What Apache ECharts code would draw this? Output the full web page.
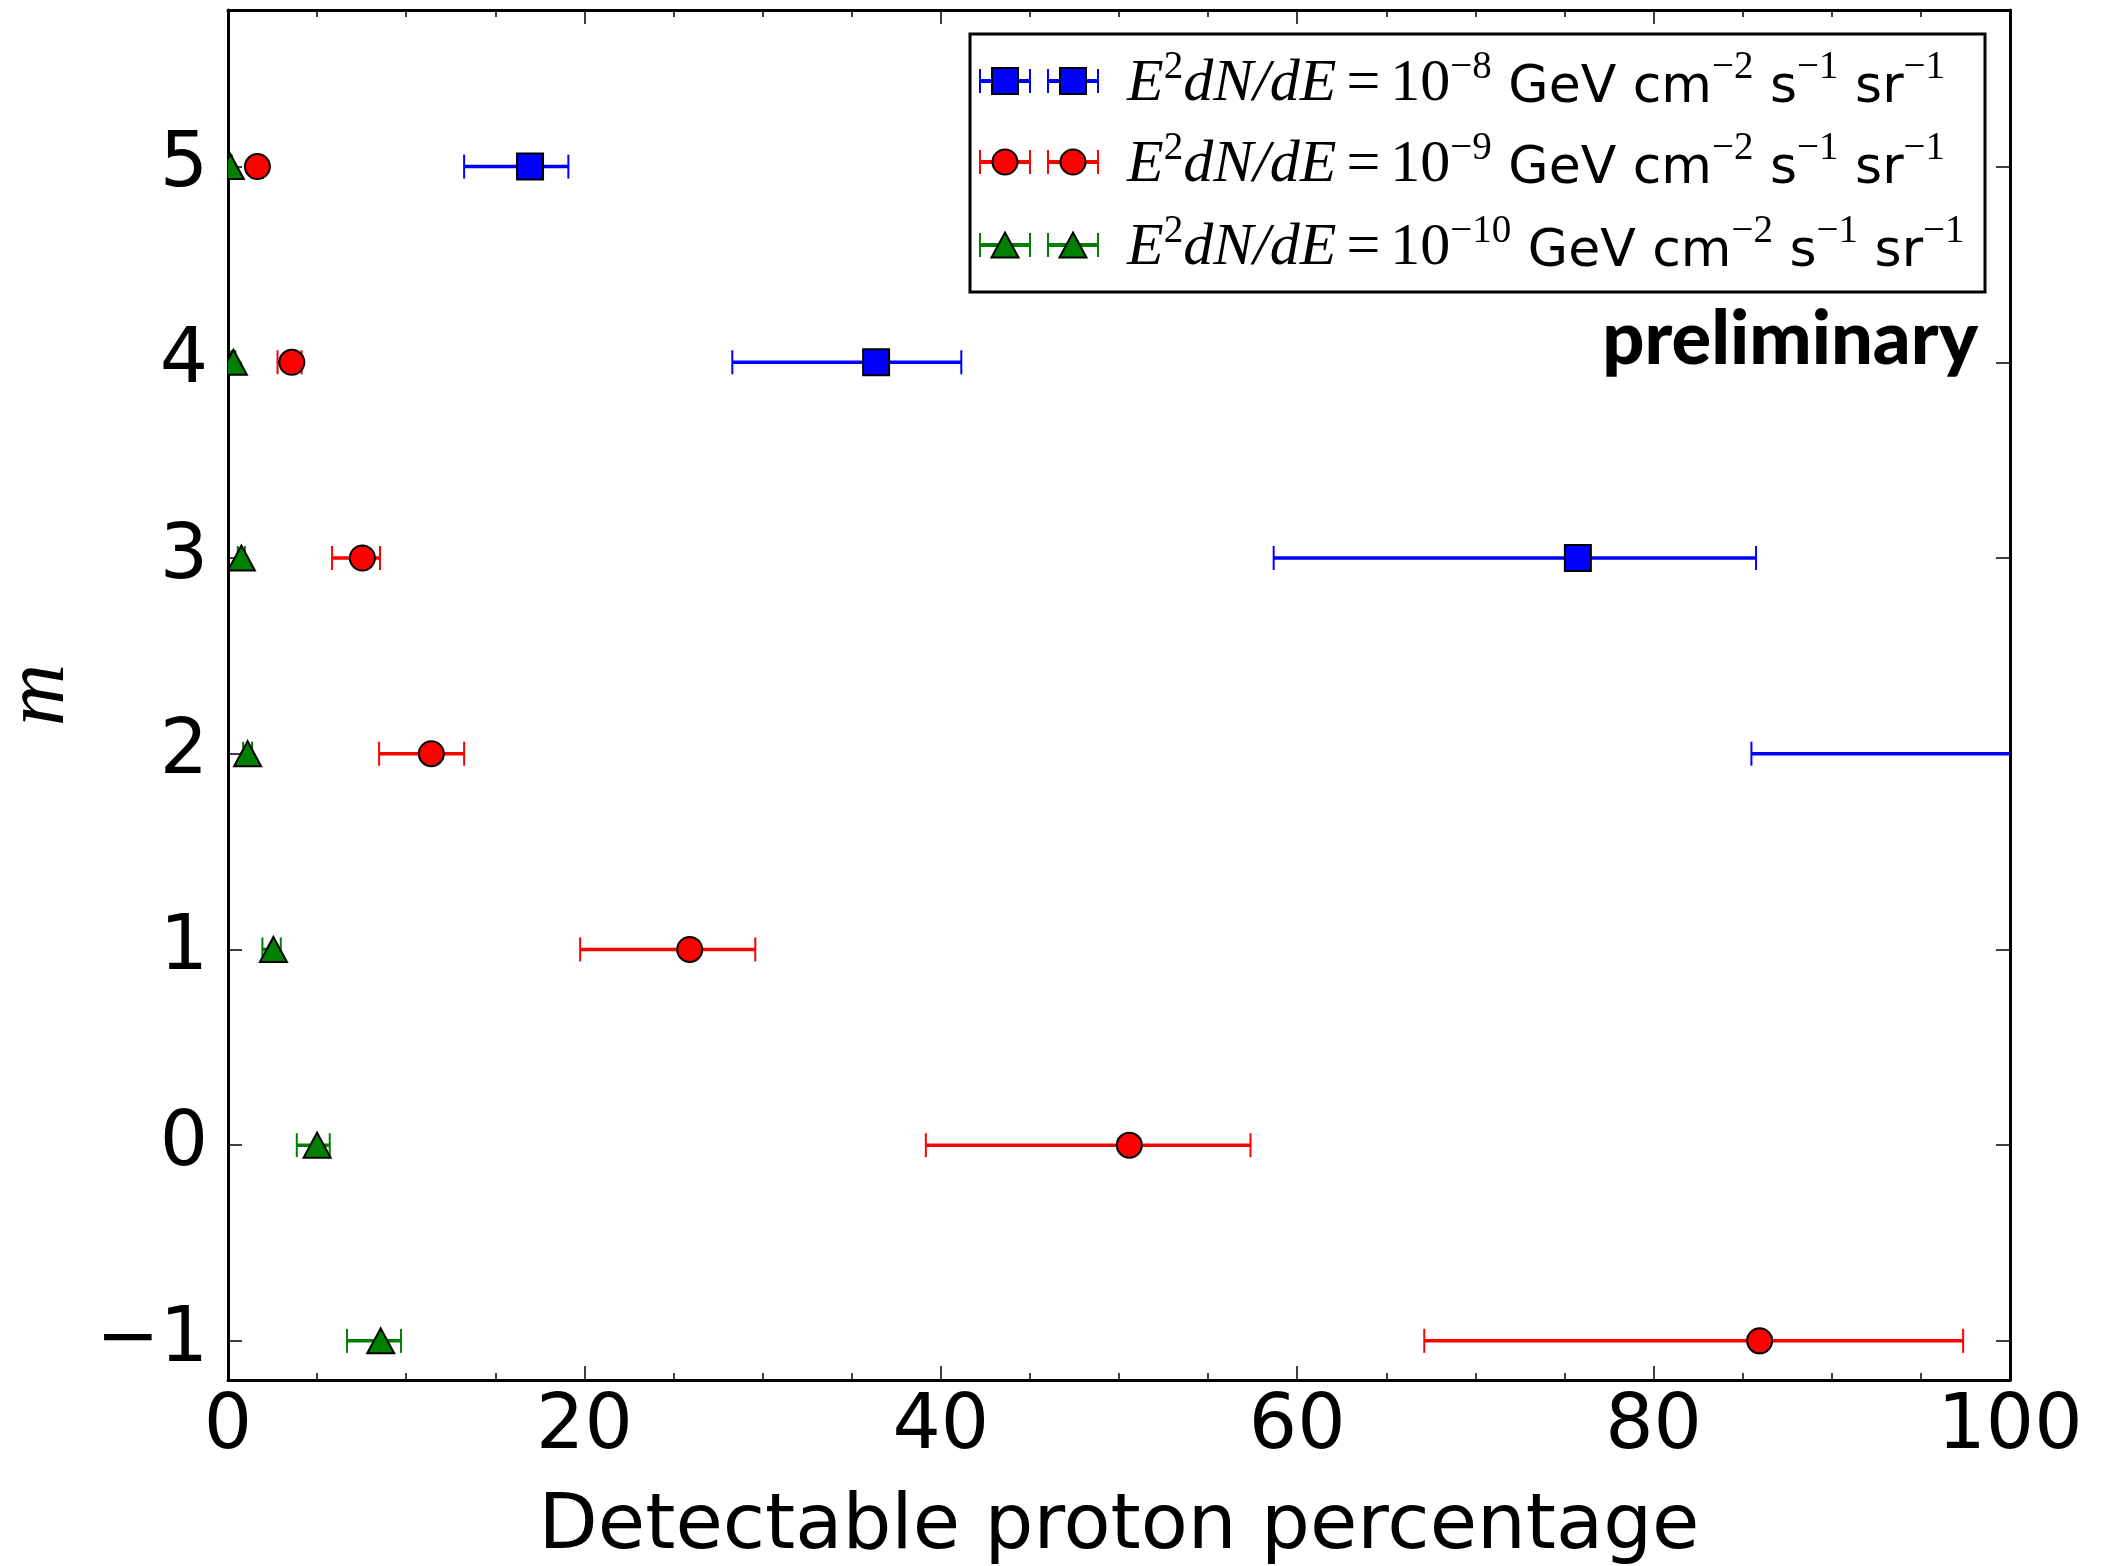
<!DOCTYPE html>
<html><head><meta charset="utf-8">
<script src="https://cdn.jsdelivr.net/npm/echarts@6/dist/echarts.min.js"></script>
<style>html,body{margin:0;padding:0;background:#fff}#c{width:2102px;height:1566px}</style>
</head><body><div id="c"></div>
<script>
// ---- data ----
const xTicks = [0, 20, 40, 60, 80, 100];
const yTicks = [-1, 0, 1, 2, 3, 4, 5];
const xTitle = 'Detectable proton percentage';
const yTitle = 'm';
const watermark = 'preliminary';
const legendExponents = ['\u22128', '\u22129', '\u221210'];

// E^2 dN/dE = 1e-8
const blueM      = [5, 4, 3, 2];
const blueCenter = [16.95, 36.37, 75.75, 105.0];
const blueLow    = [13.25, 28.30, 58.68, 85.49];
const blueHigh   = [19.10, 41.15, 85.75, 122.0];
// E^2 dN/dE = 1e-9
const redM       = [5, 4, 3, 2, 1, 0, -1];
const redCenter  = [1.65, 3.58, 7.54, 11.41, 25.91, 50.58, 85.95];
const redLow     = [1.35, 2.78, 5.84, 8.48, 19.76, 39.16, 67.13];
const redHigh    = [1.95, 4.13, 8.53, 13.25, 29.59, 57.38, 97.37];
// E^2 dN/dE = 1e-10
const greenM      = [5, 4, 3, 2, 1, 0, -1];
const greenCenter = [0.13, 0.30, 0.75, 1.10, 2.55, 5.00, 8.57];
const greenLow    = [0.05, 0.18, 0.55, 0.85, 1.93, 3.86, 6.68];
const greenHigh   = [0.22, 0.42, 0.95, 1.35, 2.96, 5.71, 9.71];

// ---- build ----
const groups = [
  {m: blueM, c: blueCenter, lo: blueLow, hi: blueHigh, color: '#0000ff', symbol: 'rect'},
  {m: redM, c: redCenter, lo: redLow, hi: redHigh, color: '#ff0000', symbol: 'circle'},
  {m: greenM, c: greenCenter, lo: greenLow, hi: greenHigh, color: '#008000', symbol: 'triangle'}
];

function symbolEl(sym, cx, cy, color, z) {
  const st = {fill: color, stroke: '#000', lineWidth: 2};
  if (sym === 'rect') return {type: 'rect', shape: {x: cx - 13, y: cy - 13, width: 26, height: 26}, style: st, z: z};
  if (sym === 'circle') return {type: 'circle', shape: {cx: cx, cy: cy, r: 12.5}, style: st, z: z};
  return {type: 'polygon', shape: {points: [[cx, cy - 12.5], [cx + 13.5, cy + 12.5], [cx - 13.5, cy + 12.5]]}, style: st, z: z};
}

function errRender(color, sym) {
  return function (params, api) {
    const p = api.coord([api.value(0), api.value(1)]);
    const y = p[1];
    const x1 = api.coord([api.value(2), 0])[0];
    const x2 = api.coord([api.value(3), 0])[0];
    const cs = params.coordSys;
    const left = cs.x, right = cs.x + cs.width;
    const cx1 = Math.max(left, Math.min(right, x1));
    const cx2 = Math.max(left, Math.min(right, x2));
    const ch = [];
    if (cx2 > cx1) ch.push({type: 'line', shape: {x1: cx1, y1: y, x2: cx2, y2: y}, style: {stroke: color, lineWidth: 3.5}});
    [x1, x2].forEach(function (x) {
      if (x >= left - 0.5 && x <= right + 0.5) {
        ch.push({type: 'line', shape: {x1: x, y1: y - 12, x2: x, y2: y + 12}, style: {stroke: color, lineWidth: 2}});
      }
    });
    if (p[0] > left - 14 && p[0] < right + 14) ch.push(symbolEl(sym, p[0], y, color, 1));
    return {
      type: 'group', children: ch,
      clipPath: {type: 'rect', shape: {x: left, y: cs.y, width: cs.width, height: cs.height}}
    };
  };
}

const series = [];
groups.forEach(function (g, gi) {
  series.push({
    type: 'custom', xAxisIndex: 0, yAxisIndex: 0, z: 10 + gi,
    renderItem: errRender(g.color, g.symbol),
    encode: {x: [0, 2, 3], y: 1},
    data: g.m.map(function (m, i) { return [g.c[i], m, g.lo[i], g.hi[i]]; }),
    silent: true, animation: false
  });
});

// legend drawn with graphic elements
const LX = 970, LY = 34, LW = 1015, LH = 258;
const rowY = [81, 162, 245];
const legendChildren = [{
  type: 'rect', shape: {x: LX, y: LY, width: LW, height: LH},
  style: {fill: '#fff', stroke: '#000', lineWidth: 3}, z: 100
}];
groups.forEach(function (g, gi) {
  const cy = rowY[gi];
  [1005, 1073].forEach(function (cx) {
    legendChildren.push({type: 'line', shape: {x1: cx - 25, y1: cy, x2: cx + 25, y2: cy}, style: {stroke: g.color, lineWidth: 4}, z: 101});
    legendChildren.push({type: 'line', shape: {x1: cx - 25, y1: cy - 12, x2: cx - 25, y2: cy + 12}, style: {stroke: g.color, lineWidth: 2}, z: 101});
    legendChildren.push({type: 'line', shape: {x1: cx + 25, y1: cy - 12, x2: cx + 25, y2: cy + 12}, style: {stroke: g.color, lineWidth: 2}, z: 101});
    legendChildren.push(symbolEl(g.symbol, cx, cy, g.color, 102));
  });
  legendChildren.push({
    type: 'text', z: 103,
    style: {
      x: 1127, y: cy, verticalAlign: 'middle', align: 'left',
      text: '{mi|E}{sup|2}{mi|dN/dE}{eq|=}{rm|10}{sup|' + legendExponents[gi] + '}{sans| GeV cm}{sup|\u22122}{sans| s}{sup|\u22121}{sans| sr}{sup|\u22121}',
      fill: '#000',
      rich: {
        mi: {fontFamily: 'Liberation Serif', fontStyle: 'italic', fontSize: 60, lineHeight: 66, verticalAlign: 'bottom'},
        eq: {fontFamily: 'Liberation Serif', fontSize: 60, lineHeight: 66, verticalAlign: 'bottom', padding: [0, 10, 0, 10]},
        rm: {fontFamily: 'Liberation Serif', fontSize: 60, lineHeight: 66, verticalAlign: 'bottom'},
        sans: {fontFamily: 'DejaVu Sans', fontSize: 52, lineHeight: 64, verticalAlign: 'bottom'},
        sup: {fontFamily: 'Liberation Serif', fontSize: 39, lineHeight: 40, verticalAlign: 'top'}
      }
    }
  });
});

const axisCommon = {
  axisLine: {show: true, onZero: false, lineStyle: {color: '#000', width: 3}},
  splitLine: {show: false}
};

const option = {
  backgroundColor: '#fff',
  animation: false,
  grid: {left: 228, right: 92, top: 10, bottom: 186, containLabel: false, outerBoundsMode: 'none'},
  xAxis: [
    Object.assign({}, axisCommon, {
      type: 'value', position: 'bottom', min: xTicks[0], max: xTicks[xTicks.length - 1], interval: 20,
      axisTick: {show: true, inside: true, length: 14, lineStyle: {color: '#000', width: 1.5}},
      minorTick: {show: true, splitNumber: 4, length: 7, lineStyle: {color: '#000', width: 1.5}},
      axisLabel: {show: true, margin: 10, color: '#000', fontSize: 76, fontFamily: 'DejaVu Sans'},
      name: xTitle, nameLocation: 'middle', nameGap: 109,
      nameTextStyle: {color: '#000', fontSize: 77, fontFamily: 'DejaVu Sans'}
    }),
    Object.assign({}, axisCommon, {
      type: 'value', position: 'top', min: xTicks[0], max: xTicks[xTicks.length - 1], interval: 20,
      axisTick: {show: true, inside: true, length: 14, lineStyle: {color: '#000', width: 1.5}},
      minorTick: {show: true, splitNumber: 4, length: 7, lineStyle: {color: '#000', width: 1.5}},
      axisLabel: {show: false}
    })
  ],
  yAxis: [
    Object.assign({}, axisCommon, {
      type: 'value', position: 'left', min: -1.2, max: 5.8,
      axisTick: {show: true, inside: true, length: 14, customValues: yTicks, lineStyle: {color: '#000', width: 1.5}},
      axisLabel: {show: true, customValues: yTicks, margin: 20, color: '#000', fontSize: 76, fontFamily: 'DejaVu Sans',
        formatter: function (v) { return v < 0 ? '\u2212' + Math.abs(v) : String(v); }},
      name: yTitle, nameLocation: 'middle', nameGap: 145, nameRotate: 90,
      nameTextStyle: {color: '#000', fontSize: 86, fontFamily: 'Liberation Serif', fontStyle: 'italic'}
    }),
    Object.assign({}, axisCommon, {
      type: 'value', position: 'right', min: -1.2, max: 5.8,
      axisTick: {show: true, inside: true, length: 14, customValues: yTicks, lineStyle: {color: '#000', width: 1.5}},
      axisLabel: {show: false}
    })
  ],
  graphic: [
    {type: 'group', children: legendChildren},
    {type: 'text', z: 103, style: {x: 1978, y: 340, align: 'right', verticalAlign: 'middle', text: watermark,
      fontFamily: 'Lato', fontWeight: 900, fontSize: 74, fill: '#000'}}
  ],
  series: series
};

const chart = echarts.init(document.getElementById('c'), null, {renderer: 'canvas'});
chart.setOption(option);
</script>
</body></html>
